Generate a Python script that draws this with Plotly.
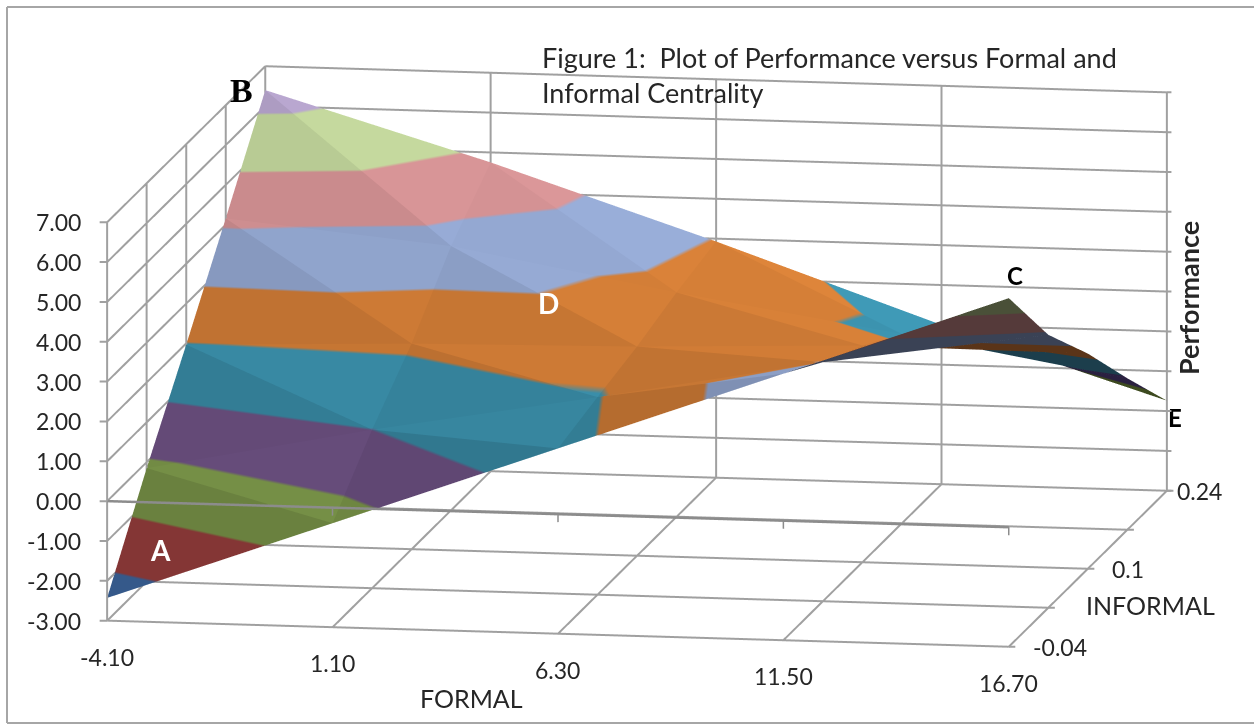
import plotly.graph_objects as go

formal = [-4.1, 1.1, 6.3, 11.5, 16.7]
informal = [-0.04, 0.03, 0.10, 0.17, 0.24]
perf_y1 = [-2.43, -0.39, 1.65, 3.69, 5.75]
perf_y2 = [-0.15, 0.98, 1.96, 3.00, 3.85]
perf_y3 = [1.97, 2.16, 2.25, 2.44, 2.40]
perf_y4 = [4.16, 3.63, 2.63, 1.75, 0.80]
perf_y5 = [6.40, 4.75, 2.93, 1.00, -0.74]

x_labels = ["-4.10", "1.10", "6.30", "11.50", "16.70"]
y_labels = ["-0.04", "", "0.1", "", "0.24"]
z_ticks = [-3, -2, -1, 0, 1, 2, 3, 4, 5, 6, 7]
z_labels = ["-3.00", "-2.00", "-1.00", "0.00", "1.00", "2.00", "3.00", "4.00", "5.00", "6.00", "7.00"]
band_colors = ["#416eaa", "#a34341", "#83a04e", "#735589", "#3b90ab",
               "#d07c36", "#92a6cf", "#d19092", "#bfd299", "#b3a2c9"]
under_colors = ["#1c2a40", "#3f1f1f", "#3d4a1f", "#2a2040", "#1c3e4c",
                "#5a3418", "#3a4255", "#553a3a", "#4a5038", "#4a4258"]

W, H = 1254, 725
GRID = "#a0a0a0"
TEXT = "#262626"
SCALE = 2.536
ASPECT = (0.997 * SCALE, 1.021 * SCALE, 0.4406 * SCALE)
EYE_DIR = (0.1664, -0.9715, 0.169)
EYE_LEN = 2.5
CENTER = (-0.0273, -0.0047, -0.0168)


def shaded(hexcol, f):
    r, g, b = (int(hexcol[i:i + 2], 16) for i in (1, 3, 5))
    return "rgb(%d,%d,%d)" % tuple(min(255, round(v * f)) for v in (r, g, b))


def stepped(cols, f=1.0):
    out = []
    for i, c in enumerate(cols):
        col = shaded(c, f)
        out += [[i / len(cols), col], [(i + 1) / len(cols), col]]
    return out


def axis(vals, rng, pad):
    # a hair of padding so lines lying exactly on the box are not clipped
    return dict(range=[rng[0] - pad, rng[1] + pad], tickmode="array", tickvals=vals, showticklabels=False,
                title=dict(text=""), showbackground=False, showgrid=False, showline=False, zeroline=False,
                showspikes=False, ticks="")


rows = [perf_y1, perf_y2, perf_y3, perf_y4, perf_y5]
nx, ny = len(formal), len(informal)
xs = [formal[c] for r in range(ny) for c in range(nx)]
ys = [informal[r] for r in range(ny) for c in range(nx)]
zs = [rows[r][c] for r in range(ny) for c in range(nx)]
xspan = formal[-1] - formal[0]
yspan = informal[-1] - informal[0]
zspan = z_ticks[-1] - z_ticks[0]


def scene_pt(n):
    return (xs[n] / xspan * ASPECT[0], ys[n] / yspan * ASPECT[1], zs[n] / zspan * ASPECT[2])


def faces_viewer(a, b, c):
    pa, pb, pc = scene_pt(a), scene_pt(b), scene_pt(c)
    u = [pb[i] - pa[i] for i in range(3)]
    v = [pc[i] - pa[i] for i in range(3)]
    nrm = (u[1] * v[2] - u[2] * v[1], u[2] * v[0] - u[0] * v[2], u[0] * v[1] - u[1] * v[0])
    return sum(nrm[i] * EYE_DIR[i] for i in range(3)) > 0


fig = go.Figure()

# wall and floor gridlines, drawn as lines so they keep the reference's weight
gx, gy, gz = [], [], []


def seg(p, q):
    gx.extend([p[0], q[0], None])
    gy.extend([p[1], q[1], None])
    gz.extend([p[2], q[2], None])


x0, x1 = formal[0], formal[-1]
y0, y1 = informal[0], informal[-1]
z0, z1 = z_ticks[0], z_ticks[-1]
for v in z_ticks:
    seg((x0, y1, v), (x1, y1, v))
    seg((x0, y0, v), (x0, y1, v))
for v in formal:
    seg((v, y1, z0), (v, y1, z1))
    seg((v, y0, z0), (v, y1, z0))
for v in informal:
    seg((x0, v, z0), (x0, v, z1))
    seg((x0, v, z0), (x1, v, z0))
seg((x0, y0, z0), (x0, y0, z1))
fig.add_trace(go.Scatter3d(x=gx, y=gy, z=gz, mode="lines", line=dict(color=GRID, width=4),
                           connectgaps=False, hoverinfo="skip", showlegend=False))


def add_facet(tri, slope_x, slope_y):
    if faces_viewer(*tri):
        # Excel's facet shading: facets falling toward the right are lit, rising ones are dim
        score = -slope_x - 0.5 * slope_y
        cols, f = band_colors, 1.0 + (0.06 if score < 0 else 0.03) * score
    else:
        cols, f = under_colors, 1.0
    fig.add_trace(go.Mesh3d(
        x=xs, y=ys, z=zs, i=[tri[0]], j=[tri[1]], k=[tri[2]],
        intensity=zs, colorscale=stepped(cols, f), cmin=z0, cmax=z1,
        showscale=False, flatshading=True,
        lighting=dict(ambient=1, diffuse=0, specular=0, roughness=1, fresnel=0),
        hoverinfo="skip",
    ))


for r in range(ny - 1):
    for c in range(nx - 1):
        n0 = r * nx + c
        n1 = n0 + 1
        n2 = n0 + nx
        n3 = n2 + 1
        add_facet((n0, n1, n2), zs[n1] - zs[n0], zs[n2] - zs[n0])
        add_facet((n1, n3, n2), zs[n3] - zs[n2], zs[n3] - zs[n1])

# the value axis crosses at zero along the front of the box
fig.add_trace(go.Scatter3d(x=[x0, x1], y=[y0, y0], z=[0, 0],
                           mode="lines", line=dict(color="#8c8c8c", width=5), hoverinfo="skip", showlegend=False))
for v in formal:
    fig.add_trace(go.Scatter3d(x=[v, v], y=[y0, y0], z=[0, -0.2],
                               mode="lines", line=dict(color="#8c8c8c", width=3), hoverinfo="skip", showlegend=False))

scene_notes = []
tick_font = dict(family="Lato", size=23, color=TEXT)


def tick(x, y, z, dx):
    return dict(x=x, y=y, z=z, text=" ", showarrow=True, arrowhead=0, arrowwidth=2, arrowcolor=GRID,
                ax=dx, ay=0, standoff=0, startstandoff=0, font=dict(size=1))


for v, t in zip(formal, x_labels):
    scene_notes.append(dict(x=v, y=y0, z=z0, text=t, showarrow=False, yshift=-36,
                            xanchor="center", yanchor="middle", font=tick_font))
for v, t in zip(informal, y_labels):
    scene_notes.append(tick(x1, v, z0, 8))
    if t:
        scene_notes.append(dict(x=x1, y=v, z=z0, text=t, showarrow=False, yanchor="middle",
                                xanchor="left", xshift=8 if v == y1 else 22, font=tick_font))
for v, t in zip(z_ticks, z_labels):
    scene_notes.append(tick(x0, y0, v, -9))
    scene_notes.append(tick(x1, y1, v, 6))
    scene_notes.append(dict(x=x0, y=y0, z=v, text=t, showarrow=False, yanchor="middle",
                            xanchor="right", xshift=-24, font=tick_font))


def note(x, y, text, size=25, color=TEXT, family="Lato", bold=False, angle=0, anchor="center"):
    return dict(x=x / W, y=1 - y / H, xref="paper", yref="paper", text=f"<b>{text}</b>" if bold else text,
                showarrow=False, textangle=angle, xanchor=anchor, yanchor="middle",
                font=dict(family=family, size=size, color=color))


def border(xa, ya, xb, yb):
    return dict(type="line", xref="paper", yref="paper", x0=xa / W, x1=xb / W, y0=1 - ya / H, y1=1 - yb / H,
                line=dict(color="#a6a6a6", width=2))


fig.update_layout(
    width=W, height=H, margin=dict(l=0, r=0, t=0, b=0),
    paper_bgcolor="white", showlegend=False,
    shapes=[border(7, 7, 1254, 7), border(7, 7, 7, 723), border(7, 723, 1254, 723)],
    scene=dict(
        domain=dict(x=[0, 1], y=[0, 1]),
        xaxis=axis(formal, [x0, x1], 0.02),
        yaxis=axis(informal, [y0, y1], 0.0003),
        zaxis=axis(z_ticks, [z0, z1], 0.01),
        aspectmode="manual",
        aspectratio=dict(x=ASPECT[0], y=ASPECT[1], z=ASPECT[2]),
        camera=dict(projection=dict(type="orthographic"),
                    eye=dict(x=EYE_DIR[0] * EYE_LEN + CENTER[0], y=EYE_DIR[1] * EYE_LEN + CENTER[1],
                             z=EYE_DIR[2] * EYE_LEN + CENTER[2]),
                    up=dict(x=0, y=0, z=1),
                    center=dict(x=CENTER[0], y=CENTER[1], z=CENTER[2])),
        annotations=scene_notes,
    ),
    annotations=[
        note(540, 57, "Figure 1:  Plot of Performance versus Formal and", size=27, anchor="left"),
        note(540, 93, "Informal Centrality", size=27, anchor="left"),
        note(471, 698, "FORMAL"),
        note(1150, 605, "INFORMAL"),
        note(1188, 298, "Performance", size=27, bold=True, angle=-90),
        note(160, 550, "A", size=28, color="white", bold=True),
        note(241, 90, "B", size=34, color="black", family="Liberation Serif", bold=True),
        note(1015, 276, "C", size=24, color="black", bold=True),
        note(548, 303, "D", size=28, color="white", bold=True),
        note(1175, 417, "E", size=24, color="black", bold=True),
    ],
)
fig.write_html("out.html", config=dict(displayModeBar=False),
               post_script="document.body.style.margin='0px';")
